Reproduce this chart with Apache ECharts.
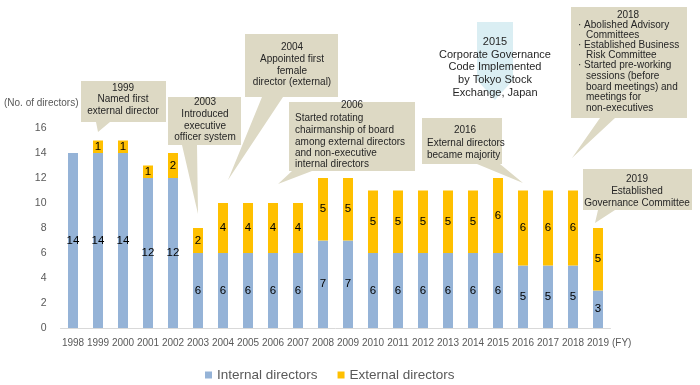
<!DOCTYPE html>
<html><head><meta charset="utf-8">
<script src="https://cdn.jsdelivr.net/npm/echarts/dist/echarts.min.js"></script>
<style>html,body{margin:0;padding:0;background:#fff;}#c{width:700px;height:385px;}</style>
</head><body><div id="c"></div>
<script>
const years = ['1998','1999','2000','2001','2002','2003','2004','2005','2006','2007','2008','2009','2010','2011','2012','2013','2014','2015','2016','2017','2018','2019'];
const internalDirectors = [14,14,14,12,12,6,6,6,6,6,7,7,6,6,6,6,6,6,5,5,5,3];
const externalDirectors = [0,1,1,1,2,2,4,4,4,4,5,5,5,5,5,5,5,6,6,6,6,5];
const seriesNames = ['Internal directors','External directors'];
const yTicks = [0,2,4,6,8,10,12,14,16];

const FONT = '"Liberation Sans", Arial, sans-serif';
const TAN = '#DDD9C4';
const TXT = '#262626';

// callout boxes: [x1,y1,x2,y2], pointer base [bx1,bx2], tip [tx,ty]
const callouts = [
  {box:[81,81,166,122], base:[96,110], tip:[98,132]},
  {box:[168,97,241,145], base:[182,197], tip:[198,214]},
  {box:[245,34,338,97], base:[262,283], tip:[228,180]},
  {box:[289,102,415,171], base:[292,312], tip:[278,184]},
  {box:[422,118,502,164], base:[477,500], tip:[523,183]},
  {box:[571,7,687,118], base:[600,615], tip:[572,158]},
  {box:[583,169,692,210], base:[598,615], tip:[595,223]}
];
// text lines: [text, x, y, align, size]
const calloutText = [
  ['1999',123,88,'center'],['Named first',123,99.5,'center'],['external director',123,111,'center'],
  ['2003',205,102,'center'],['Introduced',205,114,'center'],['executive',205,126,'center'],['officer system',205,137.5,'center'],
  ['2004',292,47,'center'],['Appointed first',292,59,'center'],['female',292,71,'center'],['director (external)',292,82.5,'center'],
  ['2006',352,105,'center'],['Started rotating',295,118,'left'],['chairmanship of board',295,130,'left'],['among external directors',295,142,'left'],['and non-executive',295,153,'left'],['internal directors',295,164.5,'left'],
  ['2016',465,130,'center'],['External directors',427,143,'left'],['became majority',427,155,'left'],
  ['2018',628,15,'center'],['\u00b7 Abolished Advisory',578,25,'left'],['Committees',586,35,'left'],['\u00b7 Established Business',578,45,'left'],['Risk Committee',586,55,'left'],['\u00b7 Started pre-working',578,65,'left'],['sessions (before',586,76,'left'],['board meetings) and',586,87,'left'],['meetings for',586,97.5,'left'],['non-executives',586,108,'left'],
  ['2019',637,179,'center'],['Established',637,191.5,'center'],['Governance Committee',637,203.5,'center'],
  ['2015',495,42,'center',11],['Corporate Governance',495,54.5,'center',11],['Code Implemented',495,67,'center',11],['by Tokyo Stock',495,80,'center',11],['Exchange, Japan',495,93,'center',11]
];

const graphics = [];
graphics.push({type:'polygon', z:1, shape:{points:[[477,22],[513,22],[513,80],[495,100],[477,80]]}, style:{fill:'#DAEEF3'}});
callouts.forEach(c=>{
  const [x1,y1,x2,y2]=c.box;
  graphics.push({type:'polygon', z:1, shape:{points:[[x1,y1],[x2,y1],[x2,y2],[c.base[1],y2],c.tip,[c.base[0],y2],[x1,y2]]}, style:{fill:TAN}});
});
calloutText.forEach(t=>{
  graphics.push({type:'text', z:2, style:{text:t[0], x:t[1], y:t[2], textAlign:t[3], textVerticalAlign:'middle', font:(t[4]||10)+'px '+FONT, fill:TXT}});
});
graphics.push({type:'text', style:{text:'(No. of directors)', x:4, y:103, textVerticalAlign:'middle', font:'10px '+FONT, fill:'#595959'}});
graphics.push({type:'text', style:{text:'(FY)', x:612, y:343, textVerticalAlign:'middle', font:'10px '+FONT, fill:'#595959'}});

const chart = echarts.init(document.getElementById('c'));
chart.setOption({
  animation:false,
  textStyle:{fontFamily:FONT},
  grid:{left:60.5, right:89.5, top:128, bottom:57, containLabel:false},
  legend:{left:200, top:363, itemWidth:7, itemHeight:7, itemGap:20, icon:'rect',
    textStyle:{fontSize:13.5, color:'#595959', fontFamily:FONT}, data:seriesNames},
  xAxis:{type:'category', data:years, axisTick:{show:false},
    axisLine:{lineStyle:{color:'#D9D9D9', width:1}},
    axisLabel:{color:'#595959', fontSize:10, margin:10, interval:0, fontFamily:FONT}},
  yAxis:{type:'value', min:yTicks[0], max:yTicks[yTicks.length-1], interval:2,
    splitLine:{show:false}, axisLine:{show:false}, axisTick:{show:false},
    axisLabel:{color:'#595959', fontSize:10.5, margin:14, fontFamily:FONT}},
  series:[
    {name:seriesNames[0], type:'bar', stack:'d', barWidth:10, data:internalDirectors,
     itemStyle:{color:'#95B3D7'},
     label:{show:true, position:'inside', color:'#000', fontSize:11.5, fontFamily:FONT}},
    {name:seriesNames[1], type:'bar', stack:'d', barWidth:10, data:externalDirectors,
     itemStyle:{color:'#FFC000'},
     label:{show:true, position:'inside', color:'#000', fontSize:11.5, fontFamily:FONT,
       formatter:p=>p.value?String(p.value):''}}
  ],
  graphic:graphics
});
</script></body></html>
